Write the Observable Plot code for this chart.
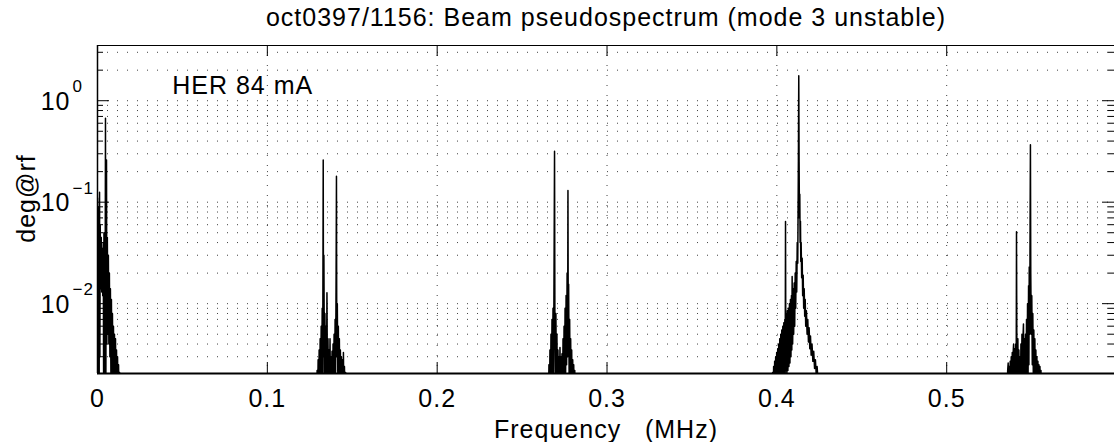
<!DOCTYPE html>
<html>
<head>
<meta charset="utf-8">
<script src="https://cdn.jsdelivr.net/npm/d3@7"></script>
<script src="https://cdn.jsdelivr.net/npm/@observablehq/plot@0.6"></script>
<style>
html, body { margin: 0; padding: 0; background: #fff; }
#chart svg text { letter-spacing: 1px; }
</style>
</head>
<body>
<div id="chart"></div>
<script>
// ---- text ----
const title = "oct0397/1156: Beam pseudospectrum (mode 3 unstable)";
const xLabel = "Frequency\u00a0\u00a0\u00a0(MHz)";
const yLabel = "deg@rf";
const note = "HER 84 mA";

// ---- axes ----
const xDomain = [0, 0.5988];
const yDomain = [0.00205, 3.5];
const xTicks = [0, 0.1, 0.2, 0.3, 0.4, 0.5];
const xTickLabels = ["0", "0.1", "0.2", "0.3", "0.4", "0.5"];
const xGrid = [0.1, 0.2, 0.3, 0.4, 0.5];
const yTicks = [1, 0.1, 0.01];
const yTickExponents = ["0", "\u22121", "\u22122"];
const yMinor = [0.003, 0.004, 0.005, 0.006, 0.007, 0.008, 0.009,
                0.02, 0.03, 0.04, 0.05, 0.06, 0.07, 0.08, 0.09,
                0.2, 0.3, 0.4, 0.5, 0.6, 0.7, 0.8, 0.9,
                2, 3];

// ---- spectrum clusters: [frequency MHz, amplitude deg@rf] ----
const cluster0 = [[0.0000,0.11],[0.0002,0.001],[0.0004,0.09],[0.0006,0.001],[0.0008,0.06],[0.0010,0.002],[0.0012,0.125],[0.0014,0.003],[0.0016,0.06],[0.0019,0.014],[0.0022,0.045],[0.0025,0.013],[0.0028,0.035],[0.0031,0.012],[0.0034,0.04],[0.0036,0.002],[0.0038,0.05],[0.0040,0.001],[0.0042,0.045],[0.0044,0.001],[0.0047,0.67],[0.0049,0.001],[0.0051,0.05],[0.0053,0.26],[0.0055,0.004],[0.0058,0.045],[0.0061,0.005],[0.0064,0.03],[0.0067,0.004],[0.0070,0.02],[0.0073,0.003],[0.0076,0.014],[0.0079,0.002],[0.0082,0.011],[0.0085,0.0018],[0.0088,0.008],[0.0091,0.0015],[0.0094,0.006],[0.0097,0.0013],[0.0100,0.005],[0.0103,0.0012],[0.0106,0.0045],[0.0109,0.0011],[0.0112,0.0035],[0.0115,0.0011],[0.0118,0.003],[0.0121,0.001],[0.0124,0.0025],[0.0127,0.001],[0.0130,0.0021],[0.0134,0.001]];

const cluster1 = [[0.1290,0.001],[0.1293,0.0022],[0.1296,0.0011],[0.1299,0.0028],[0.1302,0.0012],[0.1305,0.0035],[0.1308,0.0013],[0.1311,0.0045],[0.1314,0.0014],[0.1317,0.006],[0.1320,0.0016],[0.1323,0.009],[0.1326,0.002],[0.1329,0.26],[0.1331,0.003],[0.1333,0.03],[0.1336,0.002],[0.1339,0.008],[0.1342,0.0016],[0.1345,0.006],[0.1348,0.0014],[0.1351,0.0128],[0.1354,0.0013],[0.1357,0.0045],[0.1360,0.0012],[0.1363,0.0035],[0.1366,0.0011],[0.1369,0.0045],[0.1372,0.0011],[0.1375,0.003],[0.1378,0.0011],[0.1381,0.0034],[0.1384,0.0012],[0.1387,0.004],[0.1390,0.0013],[0.1393,0.005],[0.1396,0.0016],[0.1399,0.007],[0.1402,0.002],[0.1405,0.022],[0.1407,0.18],[0.1409,0.003],[0.1412,0.01],[0.1415,0.002],[0.1418,0.006],[0.1421,0.0015],[0.1424,0.0045],[0.1427,0.0013],[0.1430,0.0035],[0.1433,0.0012],[0.1436,0.003],[0.1439,0.0011],[0.1442,0.0028],[0.1445,0.001],[0.1448,0.0033],[0.1451,0.001],[0.1454,0.0024],[0.1458,0.001],[0.1461,0.0021],[0.1464,0.001]];

const cluster2 = [[0.2655,0.001],[0.2658,0.0025],[0.2661,0.0011],[0.2664,0.0035],[0.2667,0.0011],[0.2670,0.005],[0.2673,0.0012],[0.2676,0.007],[0.2679,0.0014],[0.2682,0.009],[0.2685,0.0018],[0.2688,0.02],[0.2691,0.317],[0.2693,0.008],[0.2696,0.002],[0.2699,0.008],[0.2702,0.0015],[0.2705,0.005],[0.2708,0.0013],[0.2711,0.0035],[0.2714,0.0012],[0.2717,0.003],[0.2720,0.0011],[0.2723,0.0037],[0.2726,0.0012],[0.2729,0.003],[0.2732,0.0011],[0.2735,0.0032],[0.2738,0.0012],[0.2741,0.0045],[0.2744,0.0013],[0.2747,0.006],[0.2750,0.0015],[0.2753,0.009],[0.2756,0.0017],[0.2759,0.012],[0.2762,0.0025],[0.2765,0.02],[0.2768,0.003],[0.2770,0.13],[0.2772,0.004],[0.2774,0.0155],[0.2777,0.0018],[0.2780,0.007],[0.2783,0.0014],[0.2786,0.0045],[0.2789,0.0012],[0.2792,0.0035],[0.2795,0.0011],[0.2798,0.0028],[0.2801,0.001],[0.2804,0.0025],[0.2807,0.001],[0.2810,0.0022],[0.2815,0.001]];

const cluster3 = [[0.3972,0.001],[0.3975,0.0021],[0.3978,0.001],[0.3981,0.0024],[0.3984,0.0011],[0.3987,0.0027],[0.3990,0.0011],[0.3993,0.003],[0.3996,0.0012],[0.3999,0.0033],[0.4002,0.0012],[0.4005,0.0036],[0.4008,0.0013],[0.4011,0.004],[0.4014,0.0013],[0.4017,0.0045],[0.4020,0.0014],[0.4023,0.005],[0.4026,0.0015],[0.4029,0.0055],[0.4032,0.0016],[0.4035,0.006],[0.4038,0.0017],[0.4041,0.0065],[0.4044,0.0018],[0.4047,0.007],[0.4049,0.002],[0.4051,0.0645],[0.4053,0.0022],[0.4056,0.008],[0.4059,0.002],[0.4062,0.0085],[0.4065,0.0022],[0.4068,0.009],[0.4071,0.0024],[0.4074,0.01],[0.4077,0.0026],[0.4080,0.011],[0.4083,0.003],[0.4086,0.012],[0.4088,0.0035],[0.4090,0.0185],[0.4093,0.004],[0.4096,0.014],[0.4099,0.005],[0.4102,0.016],[0.4105,0.006],[0.4108,0.02],[0.4111,0.009],[0.4114,0.026],[0.4117,0.013],[0.4120,0.04],[0.4123,0.025],[0.4125,0.08],[0.4127,0.3],[0.4129,1.76],[0.4131,0.25],[0.4133,0.07],[0.4135,0.12],[0.4137,0.04],[0.4139,0.065],[0.4141,0.026],[0.4143,0.04],[0.4146,0.018],[0.4149,0.028],[0.4152,0.012],[0.4155,0.019],[0.4158,0.009],[0.4161,0.014],[0.4164,0.0075],[0.4167,0.011],[0.4170,0.006],[0.4174,0.0085],[0.4178,0.005],[0.4182,0.007],[0.4186,0.0042],[0.4190,0.0058],[0.4194,0.0036],[0.4198,0.0048],[0.4202,0.0031],[0.4207,0.004],[0.4212,0.0027],[0.4217,0.0034],[0.4222,0.0023],[0.4227,0.0028],[0.4232,0.002],[0.4237,0.0024],[0.4242,0.0018],[0.4248,0.001]];

const cluster4 = [[0.5350,0.001],[0.5353,0.0019],[0.5356,0.001],[0.5359,0.0022],[0.5362,0.0026],[0.5365,0.001],[0.5368,0.0024],[0.5371,0.001],[0.5374,0.0027],[0.5377,0.0011],[0.5380,0.003],[0.5383,0.0011],[0.5386,0.0033],[0.5389,0.0012],[0.5392,0.0035],[0.5394,0.004],[0.5397,0.0012],[0.5400,0.0036],[0.5403,0.0013],[0.5406,0.004],[0.5409,0.0014],[0.5411,0.051],[0.5413,0.004],[0.5416,0.0014],[0.5419,0.0045],[0.5422,0.0012],[0.5425,0.0035],[0.5428,0.0011],[0.5431,0.003],[0.5434,0.0011],[0.5437,0.004],[0.5440,0.0012],[0.5443,0.005],[0.5446,0.0013],[0.5449,0.0045],[0.5452,0.0063],[0.5455,0.0013],[0.5458,0.0045],[0.5461,0.0012],[0.5464,0.005],[0.5467,0.0014],[0.5470,0.007],[0.5473,0.0015],[0.5476,0.01],[0.5479,0.0018],[0.5482,0.015],[0.5484,0.0025],[0.5486,0.023],[0.5489,0.005],[0.5491,0.06],[0.5493,0.369],[0.5495,0.02],[0.5498,0.005],[0.5501,0.012],[0.5504,0.0025],[0.5507,0.008],[0.5510,0.002],[0.5513,0.0055],[0.5516,0.0015],[0.5519,0.0045],[0.5522,0.0013],[0.5525,0.0035],[0.5528,0.0012],[0.5531,0.003],[0.5534,0.0011],[0.5537,0.0027],[0.5540,0.001],[0.5543,0.0025],[0.5546,0.001],[0.5549,0.0024],[0.5552,0.001],[0.5555,0.0022],[0.5559,0.001]];

const spectrum = [cluster0, cluster1, cluster2, cluster3, cluster4]
  .flat()
  .map(([f, a]) => ({f, a}));

const FS = 25;
const frameW = 1114 - 97;
const frameH = 373 - 45;
const centered = {textAnchor: "middle", lineAnchor: "middle"};

const chart = Plot.plot({
  width: 1114,
  height: 442,
  marginLeft: 97,
  marginRight: 0,
  marginTop: 45,
  marginBottom: 69,
  x: {domain: xDomain, axis: null},
  y: {type: "log", domain: yDomain, axis: null},
  style: {fontFamily: '"Liberation Sans", Arial, Helvetica, sans-serif', background: "white", color: "black"},
  marks: [
    // dotted grid
    Plot.ruleY(yMinor.concat(yTicks), {y: d => d, stroke: "#000", strokeWidth: 1, strokeDasharray: "1,9", strokeOpacity: 0.75}),
    Plot.ruleX(xGrid, {x: d => d, stroke: "#000", strokeWidth: 1, strokeDasharray: "1,9", strokeOpacity: 0.75}),
    // spectrum
    Plot.line(spectrum, {x: "f", y: "a", stroke: "black", strokeWidth: 1.5, clip: true}),
    // axes box
    Plot.ruleY([yDomain[0]], {y: d => d, stroke: "black", strokeWidth: 2}),
    Plot.ruleY([yDomain[1]], {y: d => d, stroke: "black", strokeWidth: 1}),
    Plot.ruleX([xDomain[0]], {x: d => d, stroke: "black", strokeWidth: 1.5}),
    // y ticks (inward, left and right)
    Plot.tickY(yTicks, {y: d => d, stroke: "black", insetRight: frameW - 12}),
    Plot.tickY(yMinor, {y: d => d, stroke: "black", insetRight: frameW - 6}),
    Plot.tickY(yTicks, {y: d => d, stroke: "black", insetLeft: frameW - 12}),
    Plot.tickY(yMinor, {y: d => d, stroke: "black", insetLeft: frameW - 6}),
    // x ticks (inward, bottom and top)
    Plot.tickX(xTicks.slice(1), {x: d => d, stroke: "black", insetTop: frameH - 11}),
    Plot.tickX(xTicks.slice(1), {x: d => d, stroke: "black", insetBottom: frameH - 11}),
    // x tick labels
    Plot.text(xTicks, {x: d => d, text: (d, i) => xTickLabels[i], frameAnchor: "bottom", ...centered, dy: 25, fontSize: FS}),
    // y tick labels: "10" + superscript exponent
    Plot.text(yTicks, {y: d => d, text: () => "10", frameAnchor: "left", textAnchor: "end", lineAnchor: "middle", dx: -27, dy: 1, fontSize: FS}),
    Plot.text(yTicks, {y: d => d, text: (d, i) => yTickExponents[i], frameAnchor: "left", textAnchor: "start", lineAnchor: "middle", dx: -25, dy: -14, fontSize: 17}),
    // annotation
    Plot.text([note], {x: () => 0.044, y: () => 1.40, text: d => d, textAnchor: "start", lineAnchor: "middle", fontSize: FS}),
    // title and axis labels
    Plot.text([title], {text: d => d, frameAnchor: "top", ...centered, dy: -28, fontSize: FS}),
    Plot.text([xLabel], {text: d => d, frameAnchor: "bottom", ...centered, dy: 56, fontSize: FS}),
    Plot.text([yLabel], {text: d => d, frameAnchor: "left", ...centered, rotate: -90, dx: -71, dy: -11, fontSize: FS})
  ]
});

document.getElementById("chart").append(chart);
</script>
</body>
</html>
